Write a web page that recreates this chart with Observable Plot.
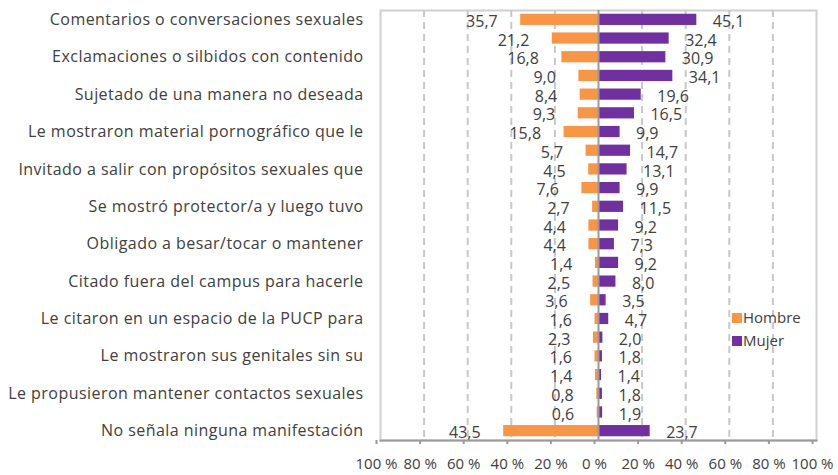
<!DOCTYPE html>
<html>
<head>
<meta charset="utf-8">
<script src="https://cdn.jsdelivr.net/npm/d3@7"></script>
<script src="https://cdn.jsdelivr.net/npm/@observablehq/plot@0.6"></script>
<style>
  body { margin: 0; background: #fff; }
  #wrap { position: relative; width: 838px; height: 475px; font-family: "Open Sans", sans-serif; }
  #wrap g[aria-label="y-axis tick label"] text { letter-spacing: 0.45px; }
  .legend { position: absolute; left: 732px; top: 306px; font-size: 15px; color: #404040; line-height: 23px; }
  .legend span.sw { display: inline-block; width: 10px; height: 10px; margin-right: 1px; }
</style>
</head>
<body>
<div id="wrap"></div>
<script>
const labels = [
  "Comentarios o conversaciones sexuales", "",
  "Exclamaciones o silbidos con contenido", "",
  "Sujetado de una manera no deseada", "",
  "Le mostraron material pornográfico que le", "",
  "Invitado a salir con propósitos sexuales que", "",
  "Se mostró protector/a y luego tuvo", "",
  "Obligado a besar/tocar o mantener", "",
  "Citado fuera del campus para hacerle", "",
  "Le citaron en un espacio de la PUCP para", "",
  "Le mostraron sus genitales sin su", "",
  "Le propusieron mantener contactos sexuales", "",
  "No señala ninguna manifestación"
];
const hombre = [35.7, 21.2, 16.8, 9.0, 8.4, 9.3, 15.8, 5.7, 4.5, 7.6, 2.7, 4.4, 4.4, 1.4, 2.5, 3.6, 1.6, 2.3, 1.6, 1.4, 0.8, 0.6, 43.5];
const mujer  = [45.1, 32.4, 30.9, 34.1, 19.6, 16.5, 9.9, 14.7, 13.1, 9.9, 11.5, 9.2, 7.3, 9.2, 8.0, 3.5, 4.7, 2.0, 1.8, 1.4, 1.8, 1.9, 23.7];
const series = ["Hombre", "Mujer"];
const colors = ["#F79646", "#7030A0"];
const xTicks = [-100, -80, -60, -40, -20, 0, 20, 40, 60, 80, 100];
const gridTicks = [-80, -60, -40, -20, 20, 40, 60, 80];

const rows = labels.map((label, i) => ({i, label, hombre: hombre[i], mujer: mujer[i]}));
const fmt = v => v.toFixed(1).replace(".", ",");
const FS = 16;

const chart = Plot.plot({
  width: 838,
  height: 475,
  marginTop: 10,
  marginBottom: 35,
  marginLeft: 380,
  marginRight: 22,
  style: {fontFamily: "'Open Sans', sans-serif", fontSize: FS + "px", color: "#404040", background: "#fff"},
  x: {domain: [-100, 100], label: null},
  y: {domain: d3.range(labels.length), paddingInner: 0.4, paddingOuter: 0.2, round: false, label: null},
  marks: [
    Plot.frame({stroke: "#d0d0d0", strokeWidth: 2}),
    Plot.ruleX(gridTicks, {stroke: "#c8c8c8", strokeWidth: 2, strokeDasharray: "7,5"}),
    Plot.barX(rows, {y: "i", x1: d => -d.hombre, x2: 0, fill: colors[0]}),
    Plot.barX(rows, {y: "i", x1: 0, x2: "mujer", fill: colors[1]}),
    Plot.ruleX([0], {stroke: "#9a9a9a", strokeWidth: 2}),
    Plot.text(rows, {y: "i", x: d => -d.hombre, text: d => fmt(d.hombre), textAnchor: "end", dx: -23, dy: 2, fill: "#404040", fontSize: FS}),
    Plot.text(rows, {y: "i", x: "mujer", text: d => fmt(d.mujer), textAnchor: "start", dx: 16, dy: 2, fill: "#404040", fontSize: FS}),
    Plot.axisY({tickSize: 0, tickPadding: 17, tickFormat: i => labels[i], fontSize: FS, fill: "#404040", label: null}),
    Plot.axisX({ticks: xTicks, tickFormat: d => Math.abs(d) + " %", tickSize: 4, tickPadding: 14, dx: -4, stroke: "#9a9a9a", strokeWidth: 2, fontSize: 15, fill: "#404040", label: null}),
    Plot.frame({anchor: "bottom", stroke: "#9a9a9a", strokeWidth: 2})
  ]
});

const wrap = document.getElementById("wrap");
wrap.appendChild(chart);
const legend = document.createElement("div");
legend.className = "legend";
legend.innerHTML = series.map((s, k) => `<div><span class="sw" style="background:${colors[k]}"></span>${s}</div>`).join("");
wrap.appendChild(legend);
</script>
</body>
</html>
